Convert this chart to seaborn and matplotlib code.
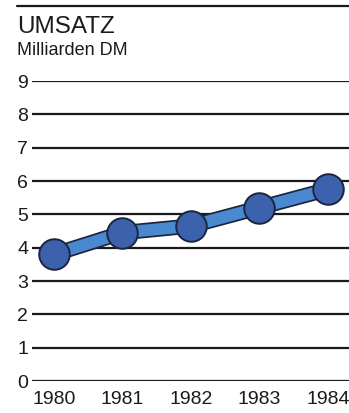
import matplotlib
matplotlib.use("Agg")
import matplotlib.pyplot as plt
import matplotlib.patheffects as pe
from matplotlib.lines import Line2D
import pandas as pd
import seaborn as sns

years = [1980, 1981, 1982, 1983, 1984]
umsatz = [3.8, 4.45, 4.65, 5.2, 5.75]
y_ticks = [0, 1, 2, 3, 4, 5, 6, 7, 8, 9]

title = "UMSATZ"
subtitle = "Milliarden DM"

sns.set_style("white")
plt.rcParams["font.family"] = ["Liberation Sans", "DejaVu Sans"]

df = pd.DataFrame({"Jahr": years, "Umsatz": umsatz})

fig = plt.figure(figsize=(3.49, 4.13), dpi=100)
ax = fig.add_axes([32 / 349, (413 - 381) / 413, 1 - 32 / 349, (381 - 81) / 413])

# horizontal rules for every scale step
for v in y_ticks:
    ax.axhline(v, color="#1a1a1a", lw=1.6, zorder=1)

band = "#4a88cf"
dot = "#3d62ad"
edge = "#1b2540"

sns.lineplot(data=df, x="Jahr", y="Umsatz", ax=ax, color=band, lw=8.5,
             solid_capstyle="butt", zorder=3,
             path_effects=[pe.Stroke(linewidth=11, foreground=edge), pe.Normal()])
sns.scatterplot(data=df, x="Jahr", y="Umsatz", ax=ax, s=22 ** 2, color=dot,
                edgecolor=edge, linewidth=1.4, zorder=4, clip_on=False)

ax.set_xlim(1980 - 22 / 68.5, 1984 + 21 / 68.5)
ax.set_ylim(0, 9)
ax.set_xticks(years)
ax.set_xticklabels([str(y) for y in years])
ax.set_yticks(y_ticks)
ax.set_yticklabels([str(v) for v in y_ticks])
ax.tick_params(axis="both", length=0, labelsize=14, colors="#1a1a1a")
ax.tick_params(axis="y", pad=2.8)
ax.tick_params(axis="x", pad=7.0)
ax.set_xlabel("")
ax.set_ylabel("")
for s in ax.spines.values():
    s.set_visible(False)

# header rule and titles
fig.add_artist(Line2D([17 / 349, 1.0], [1 - 6 / 413, 1 - 6 / 413],
                      transform=fig.transFigure, color="#1a1a1a", lw=1.6))
fig.text(17 / 349, 1 - 33 / 413, title, fontsize=17.5, color="#1a1a1a",
         ha="left", va="baseline")
fig.text(17 / 349, 1 - 55 / 413, subtitle, fontsize=13, color="#1a1a1a",
         ha="left", va="baseline")

fig.savefig("out.png", dpi=100)
